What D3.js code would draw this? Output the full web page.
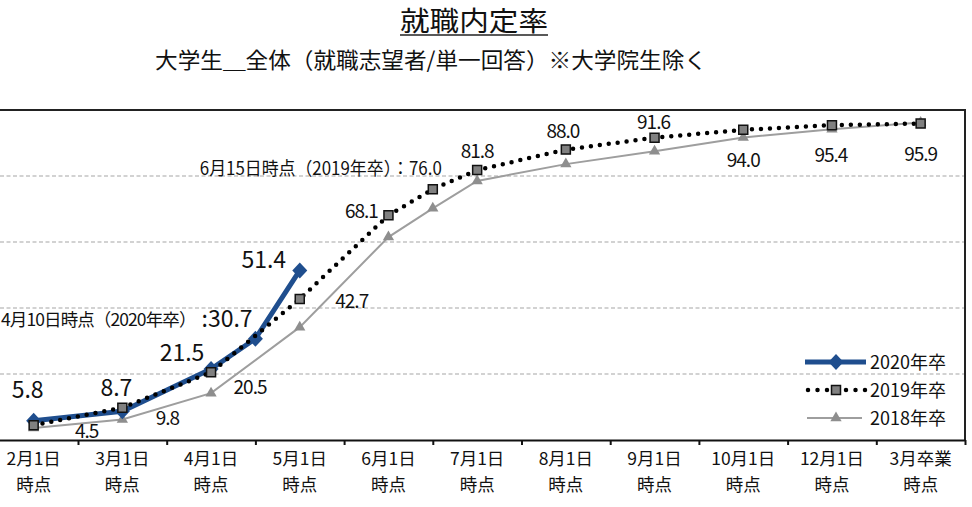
<!DOCTYPE html>
<html><head><meta charset="utf-8">
<script src="https://cdn.jsdelivr.net/npm/d3@7"></script>
<style>
body{margin:0;background:#fff;}
svg{display:block;font-family:"Noto Sans CJK JP","Noto Sans",sans-serif;}
</style>
</head><body><svg id="c" width="972" height="507"></svg>
<script>
// ---------- data ----------
const categories = ["2月1日","3月1日","4月1日","5月1日","6月1日","7月1日","8月1日","9月1日","10月1日","12月1日","3月卒業"];
const tickSubLabel = "時点";
const yGridTicks = [20, 40, 60, 80];
const dates2020 = ["2月1日","3月1日","4月1日","4月10日","5月1日"];
const values2020 = [5.8, 8.7, 21.5, 30.7, 51.4];
const dates2019 = ["2月1日","3月1日","4月1日","5月1日","6月1日","6月15日","7月1日","8月1日","9月1日","10月1日","12月1日","3月卒業"];
const values2019 = [4.5, 9.8, 20.5, 42.7, 68.1, 76.0, 81.8, 88.0, 91.6, 94.0, 95.4, 95.9];
const dates2018 = dates2019;
const values2018 = [3.6, 6.2, 14.2, 34.2, 61.5, 70.2, 78.5, 83.6, 87.5, 91.7, 94.2, 96.2];
const seriesNames = ["2020年卒","2019年卒","2018年卒"];
const titleText = "就職内定率";
const subtitleText = "大学生＿全体（就職志望者/単一回答）※大学院生除く";
const note2020Prefix = "4月10日時点（2020年卒）";
const note2019Prefix = "6月15日時点（2019年卒）";

// ---------- helpers ----------
function dateIndex(d){
  const i = categories.indexOf(d);
  if (i >= 0) return i;
  const m = d.split("月")[0];
  return categories.indexOf(m + "月1日") + 0.5;   // interim survey dates sit between categories
}
const svg = d3.select("#c");
const x = d3.scaleLinear().domain([-0.5, categories.length - 0.5]).range([-10.7, 965]);
const y = d3.scaleLinear().domain([0, 100]).range([440, 110]);

const BLUE = "#1f4e8e";

// ---------- titles ----------
svg.append("text").attr("x", 474).attr("y", 31).attr("text-anchor", "middle")
  .attr("font-size", 27).attr("fill", "#111")
  .attr("textLength", 148).attr("lengthAdjust", "spacingAndGlyphs").text(titleText);
svg.append("line").attr("x1", 400).attr("x2", 548).attr("y1", 35).attr("y2", 35)
  .attr("stroke", "#222").attr("stroke-width", 1.5);
svg.append("text").attr("x", 431).attr("y", 68).attr("text-anchor", "middle")
  .attr("font-size", 22).attr("fill", "#111")
  .attr("textLength", 552).attr("lengthAdjust", "spacingAndGlyphs").text(subtitleText);

// ---------- grid & frame ----------
svg.append("g").selectAll("line").data(yGridTicks).join("line")
  .attr("x1", 0).attr("x2", x(categories.length - 0.5))
  .attr("y1", d => y(d)).attr("y2", d => y(d))
  .attr("stroke", "#c4c4c4").attr("stroke-width", 1.4).attr("stroke-dasharray", "4 2.5");

svg.append("path")
  .attr("d", `M${x(-0.5)},${y(100)}H${x(categories.length - 0.5)}V${y(0)}`)
  .attr("fill", "none").attr("stroke", "#222").attr("stroke-width", 2);

// x axis
const xAxis = d3.axisBottom(x)
  .tickValues(d3.range(-0.5, categories.length, 1))
  .tickSize(5).tickSizeOuter(0).tickFormat("");
const ax = svg.append("g").attr("transform", `translate(0,${y(0)})`).call(xAxis);
ax.select(".domain").attr("stroke", "#111").attr("stroke-width", 2);
ax.selectAll(".tick line").attr("stroke", "#111").attr("stroke-width", 2);

const lab = svg.append("g").attr("font-size", 17.5).attr("fill", "#111").attr("text-anchor", "middle");
categories.forEach((c, i) => {
  const tx = lab.append("text").attr("x", x(i)).attr("y", 465);
  tx.append("tspan").attr("x", x(i)).text(c);
  tx.append("tspan").attr("x", x(i)).attr("dy", 26).text(tickSubLabel);
});

// ---------- series ----------
const line = d3.line().x(d => x(dateIndex(d.date))).y(d => y(d.v));
const s2020 = dates2020.map((d, i) => ({date: d, v: values2020[i]}));
const s2019 = dates2019.map((d, i) => ({date: d, v: values2019[i]}));
const s2018 = dates2018.map((d, i) => ({date: d, v: values2018[i]}));

const diamondPath = "M0,-8L7.5,0L0,8L-7.5,0Z";
const trianglePath = d3.symbol().type(d3.symbolTriangle).size(55)();
const squarePath = "M-4.5,-4.5H4.5V4.5H-4.5Z";

// 2018
svg.append("path").datum(s2018).attr("d", line).attr("fill", "none")
  .attr("stroke", "#9e9e9e").attr("stroke-width", 2);
svg.append("g").selectAll("path").data(s2018).join("path")
  .attr("d", trianglePath).attr("fill", "#8e8e8e")
  .attr("transform", d => `translate(${x(dateIndex(d.date))},${y(d.v)})`);

// 2020
svg.append("path").datum(s2020).attr("d", line).attr("fill", "none")
  .attr("stroke", BLUE).attr("stroke-width", 5).attr("stroke-linejoin", "round");
svg.append("g").selectAll("path").data(s2020).join("path")
  .attr("d", diamondPath).attr("fill", BLUE)
  .attr("transform", d => `translate(${x(dateIndex(d.date))},${y(d.v)})`);

// 2019
svg.append("path").datum(s2019).attr("d", line).attr("fill", "none")
  .attr("stroke", "#000").attr("stroke-width", 4.5).attr("stroke-linecap", "round")
  .attr("stroke-dasharray", "0 9");
svg.append("g").selectAll("path").data(s2019).join("path")
  .attr("d", squarePath).attr("fill", "#808080").attr("stroke", "#111").attr("stroke-width", 1.5)
  .attr("transform", d => `translate(${x(dateIndex(d.date))},${y(d.v)})`);

// ---------- data labels ----------
const off2019 = [[53,13],[45,17],[39,22],[52,9],[-27,3],null,[0,-12],[-3,-12],[-1,-9],[0,37],[-1,37],[0,37]];
const g19 = svg.append("g").attr("font-size", 19).attr("fill", "#111").attr("text-anchor", "middle")
  .attr("letter-spacing", -1);
s2019.forEach((d, i) => {
  if (!off2019[i]) return;
  g19.append("text").attr("x", x(dateIndex(d.date)) + off2019[i][0]).attr("y", y(d.v) + off2019[i][1])
    .text(d.v.toFixed(1));
});
const off2020 = [[-6,-23],[-6,-15],[-29,-8],null,[-36,-2]];
const g20 = svg.append("g").attr("font-size", 23).attr("fill", "#111").attr("text-anchor", "middle");
s2020.forEach((d, i) => {
  if (!off2020[i]) return;
  g20.append("text").attr("x", x(dateIndex(d.date)) + off2020[i][0]).attr("y", y(d.v) + off2020[i][1])
    .text(d.v.toFixed(1));
});

// annotation 2019 (6/15)
{
  const d = s2019[dates2019.indexOf("6月15日")];
  const ex = x(dateIndex(d.date)) + 9, by = y(d.v) - 14;
  svg.append("text").attr("x", ex).attr("y", by).attr("text-anchor", "end")
    .attr("font-size", 18).attr("fill", "#111")
    .attr("textLength", 242).attr("lengthAdjust", "spacingAndGlyphs")
    .text(note2019Prefix + "：" + d.v.toFixed(1));
}
// annotation 2020 (4/10)
{
  const d = s2020[dates2020.indexOf("4月10日")];
  const by = y(d.v) - 12;
  const tx = svg.append("text").attr("x", 1).attr("y", by).attr("fill", "#111");
  tx.append("tspan").attr("font-size", 17.5).attr("letter-spacing", -0.9).attr("dy", -1).text(note2020Prefix);
  tx.append("tspan").attr("font-size", 23).attr("letter-spacing", 0).attr("dx", 6).attr("dy", 1).text(":" + d.v.toFixed(1));
}

// ---------- legend ----------
const legRows = [362, 390, 418];
const lg = svg.append("g");
// 2020
lg.append("line").attr("x1", 805).attr("x2", 866).attr("y1", legRows[0]).attr("y2", legRows[0])
  .attr("stroke", BLUE).attr("stroke-width", 5);
lg.append("path").attr("d", diamondPath).attr("fill", BLUE).attr("transform", `translate(836,${legRows[0]})`);
// 2019
lg.append("line").attr("x1", 808).attr("x2", 866).attr("y1", legRows[1]).attr("y2", legRows[1])
  .attr("stroke", "#000").attr("stroke-width", 4.5).attr("stroke-linecap", "round").attr("stroke-dasharray", "0 9.5");
lg.append("path").attr("d", squarePath).attr("fill", "#808080").attr("stroke", "#111").attr("stroke-width", 1.5)
  .attr("transform", `translate(836,${legRows[1]})`);
// 2018
lg.append("line").attr("x1", 807).attr("x2", 862).attr("y1", legRows[2]).attr("y2", legRows[2])
  .attr("stroke", "#9e9e9e").attr("stroke-width", 2);
lg.append("path").attr("d", trianglePath).attr("fill", "#8e8e8e").attr("transform", `translate(836,${legRows[2]})`);
seriesNames.forEach((n, i) => {
  lg.append("text").attr("x", 870).attr("y", legRows[i] + 7).attr("font-size", 18).attr("fill", "#111").text(n);
});
</script>
</body></html>
